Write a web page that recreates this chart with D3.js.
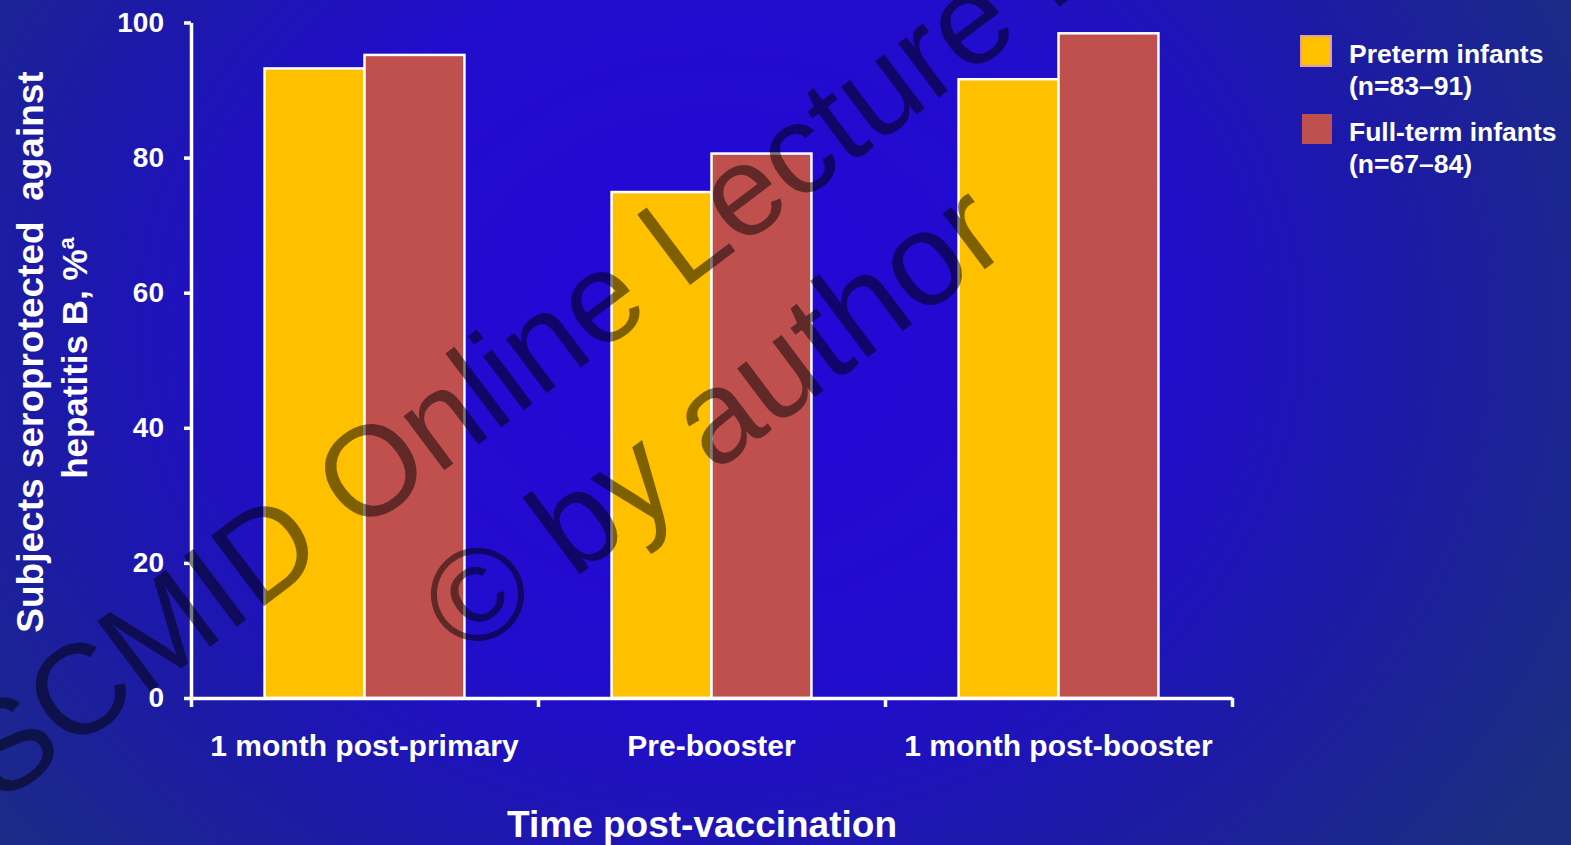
<!DOCTYPE html>
<html>
<head>
<meta charset="utf-8">
<script src="https://cdn.jsdelivr.net/npm/d3@7"></script>
<style>
  html, body { margin: 0; padding: 0; background: #1e14b8; }
  svg { display: block; }
  text { font-family: "Liberation Sans", Arial, Helvetica, sans-serif; }
</style>
</head>
<body>
<script>
// Seroprotection against hepatitis B, by time point and infant group
const categories = ["1 month post-primary", "Pre-booster", "1 month post-booster"];
const seriesNames = ["Preterm infants", "Full-term infants"];
const seriesCounts = ["(n=83\u201391)", "(n=67\u201384)"];
const pretermValues = [93.2, 74.9, 91.6];
const fulltermValues = [95.2, 80.6, 98.4];
const yTicks = [0, 20, 40, 60, 80, 100];
const seriesColors = ["#ffc000", "#c0504d"];

const W = 1571, H = 845;
const svg = d3.select("body").append("svg").attr("width", W).attr("height", H);

// Background: vivid blue centre fading to deep navy at the edges
const defs = svg.append("defs");
const bg = defs.append("radialGradient").attr("id", "bg")
  .attr("gradientUnits", "userSpaceOnUse")
  .attr("cx", 720).attr("cy", 330).attr("r", 980)
  .attr("gradientTransform", "translate(720,330) scale(1,0.85) translate(-720,-330)");
bg.append("stop").attr("offset", 0).attr("stop-color", "#2506d8");
bg.append("stop").attr("offset", 0.45).attr("stop-color", "#210dcc");
bg.append("stop").attr("offset", 0.7).attr("stop-color", "#1c1aa6");
bg.append("stop").attr("offset", 1).attr("stop-color", "#1b2e80");
svg.append("rect").attr("width", W).attr("height", H).attr("fill", "url(#bg)");

const rows = categories.map((c, i) => ({ cat: c, values: [pretermValues[i], fulltermValues[i]] }));

const yBase = 698, yTop = 22.5, xLeft = 191, xRight = 1232;
const y = d3.scaleLinear().domain([0, 100]).range([yBase, yTop]);
const x0 = d3.scaleBand().domain(categories).range([xLeft, xRight])
  .paddingInner(0.424).paddingOuter(0.212);
const x1 = d3.scaleBand().domain(seriesNames).range([0, x0.bandwidth()]);
const color = d3.scaleOrdinal().domain(seriesNames).range(seriesColors);

// Bars
const groups = svg.append("g").selectAll("g").data(rows).join("g")
  .attr("transform", d => `translate(${x0(d.cat)},0)`);
groups.selectAll("rect")
  .data(d => d.values.map((v, j) => ({ s: seriesNames[j], v })))
  .join("rect")
  .attr("x", d => x1(d.s))
  .attr("y", d => y(d.v))
  .attr("width", x1.bandwidth())
  .attr("height", d => y(0) - y(d.v))
  .attr("fill", d => color(d.s))
  .attr("stroke", "#ffffff")
  .attr("stroke-width", 2.5);

// Y axis
const yAxis = svg.append("g").attr("transform", `translate(${xLeft},0)`)
  .call(d3.axisLeft(y).tickValues(yTicks).tickSize(7).tickSizeOuter(0).tickPadding(20));
yAxis.select(".domain").attr("stroke", "#fff").attr("stroke-width", 3.5);
yAxis.selectAll(".tick line").attr("stroke", "#fff").attr("stroke-width", 3.5);
yAxis.selectAll(".tick text").attr("fill", "#fff")
  .style("font-size", "28px").style("font-weight", "bold");

// X axis: tick marks on the boundaries between time points
const xEdge = d3.scaleLinear().domain([0, categories.length]).range([xLeft, xRight]);
const xAxis = svg.append("g").attr("transform", `translate(0,${yBase})`)
  .call(d3.axisBottom(xEdge).tickValues(d3.range(categories.length + 1))
    .tickSize(9).tickSizeOuter(0).tickFormat(""));
xAxis.select(".domain").attr("stroke", "#fff").attr("stroke-width", 3.5);
xAxis.selectAll(".tick line").attr("stroke", "#fff").attr("stroke-width", 3.5);

// Category labels
const xLabels = svg.append("g").attr("transform", `translate(0,${yBase})`)
  .call(d3.axisBottom(x0).tickSize(0).tickPadding(37));
xLabels.select(".domain").remove();
xLabels.selectAll(".tick text").attr("fill", "#fff")
  .style("font-size", "30px").style("font-weight", "bold");

// Axis titles
svg.append("text").attr("x", 702).attr("y", 837).attr("text-anchor", "middle")
  .attr("fill", "#fff").style("font-size", "37px").style("font-weight", "bold")
  .text("Time post-vaccination");

const yTitle = svg.append("g").attr("fill", "#fff").style("font-weight", "bold");
yTitle.append("text").attr("transform", "translate(43,352) rotate(-90)")
  .attr("text-anchor", "middle").attr("xml:space", "preserve")
  .style("font-size", "37px")
  .text("Subjects seroprotected  against");
const t2 = yTitle.append("text").attr("transform", "translate(87,358) rotate(-90)")
  .attr("text-anchor", "middle").style("font-size", "35px");
t2.append("tspan").text("hepatitis B, %");
t2.append("tspan").attr("dy", -13).style("font-size", "22px").text("a");

// Legend
const legend = svg.append("g").attr("transform", "translate(1301,36)");
const items = legend.selectAll("g").data(seriesNames).join("g")
  .attr("transform", (d, i) => `translate(0,${i * 78})`);
items.append("rect").attr("x", (d, i) => i * 1).attr("y", 0)
  .attr("width", 30).attr("height", 30)
  .attr("fill", d => color(d))
  .attr("stroke", (d, i) => i === 0 ? "#d9a0a8" : "none").attr("stroke-width", 2);
items.append("text").attr("x", 48).attr("y", 27).attr("fill", "#fff")
  .style("font-size", "26.5px").style("font-weight", "bold").text(d => d);
items.append("text").attr("x", 48).attr("y", 59).attr("fill", "#fff")
  .style("font-size", "26.5px").style("font-weight", "bold")
  .text((d, i) => seriesCounts[i]);

// Watermark
const wm = svg.append("g").attr("fill", "#000").attr("fill-opacity", 0.5)
  .style("pointer-events", "none");
wm.append("text").attr("transform", "translate(0,805) rotate(-37)")
  .style("font-size", "128px")
  .text("SCMID Online Lecture Library");
wm.append("text").attr("transform", "translate(466,660) rotate(-37)")
  .style("font-size", "132px")
  .text("\u00a9 by author");
</script>
</body>
</html>
